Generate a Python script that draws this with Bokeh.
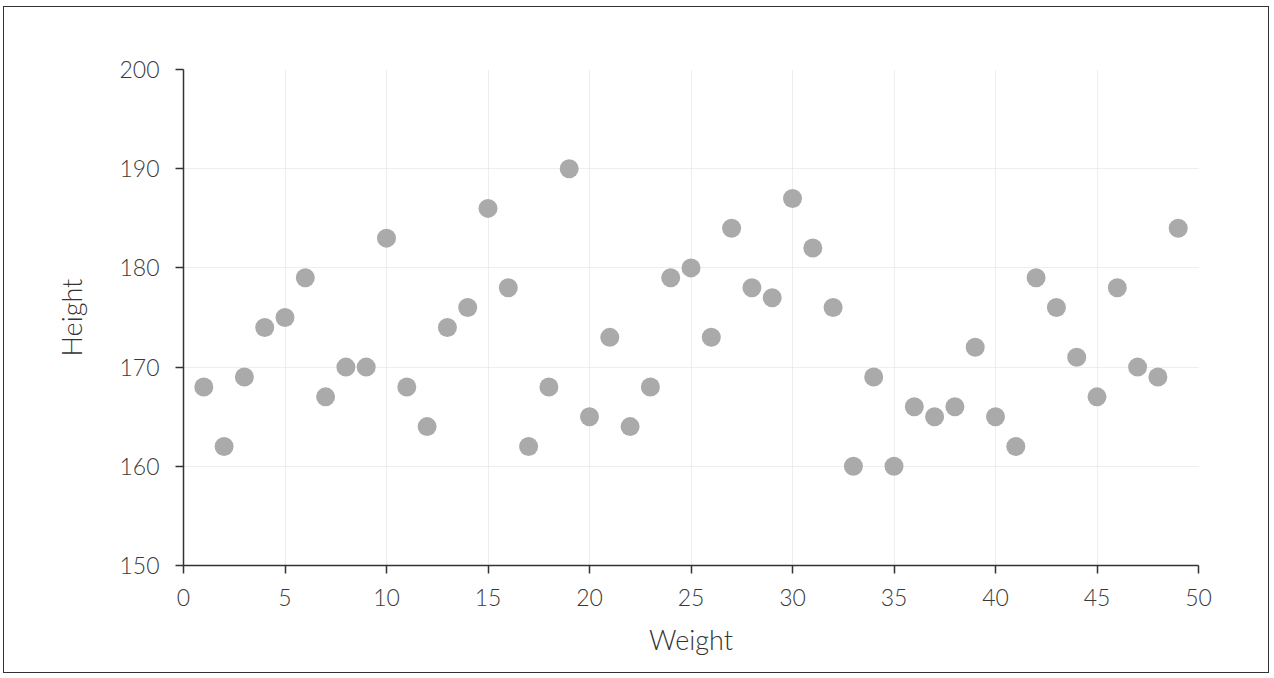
from bokeh.plotting import figure
from bokeh.embed import file_html
from bokeh.resources import INLINE
from bokeh.models import Range1d, FixedTicker

weight = list(range(1, 50))
height = [168, 162, 169, 174, 175, 179, 167, 170, 170, 183,
          168, 164, 174, 176, 186, 178, 162, 168, 190, 165,
          173, 164, 168, 179, 180, 173, 184, 178, 177, 187,
          182, 176, 160, 169, 160, 166, 165, 166, 172, 165,
          162, 179, 176, 171, 167, 178, 170, 169, 184]
x_ticks = [0, 5, 10, 15, 20, 25, 30, 35, 40, 45, 50]
y_ticks = [150, 160, 170, 180, 190, 200]

p = figure(width=1266, height=667, output_backend="svg", toolbar_location=None,
           x_range=Range1d(0, 50), y_range=Range1d(150, 200),
           min_border_left=179, min_border_right=72, min_border_top=62, min_border_bottom=109)
p.styles = {"border": "1.5px solid #333", "margin-left": "3px", "margin-top": "6px"}
p.outline_line_color = None

p.scatter(weight, height, size=19, fill_color="#aaaaaa", line_color=None)

font = "Lato Light"
for ax in (p.xaxis[0], p.yaxis[0]):
    ax.axis_line_color = "#333333"
    ax.axis_line_width = 1.5
    ax.major_tick_line_color = "#333333"
    ax.major_tick_line_width = 1.5
    ax.major_tick_out = 8
    ax.major_tick_in = 0
    ax.minor_tick_line_color = None
    ax.major_label_text_font = font
    ax.major_label_text_font_size = "23px"
    ax.major_label_text_color = "#3a3a3a"
    ax.axis_label_text_font = font
    ax.axis_label_text_font_size = "27px"
    ax.axis_label_text_font_style = "normal"
    ax.axis_label_text_color = "#333333"

p.xaxis.ticker = FixedTicker(ticks=x_ticks)
p.yaxis.ticker = FixedTicker(ticks=y_ticks)
p.xaxis.axis_label = "Weight"
p.yaxis.axis_label = "Height"
p.xaxis.major_label_standoff = 15
p.yaxis.major_label_standoff = 16
p.xaxis.axis_label_standoff = 14
p.yaxis.axis_label_standoff = 28

for g in (p.xgrid[0], p.ygrid[0]):
    g.grid_line_color = "#dddddd"
    g.grid_line_dash = "1 1"
    g.grid_line_width = 1
p.xgrid.ticker = FixedTicker(ticks=x_ticks)
p.ygrid.ticker = FixedTicker(ticks=y_ticks)

open("out.html", "w").write(file_html(p, INLINE))
